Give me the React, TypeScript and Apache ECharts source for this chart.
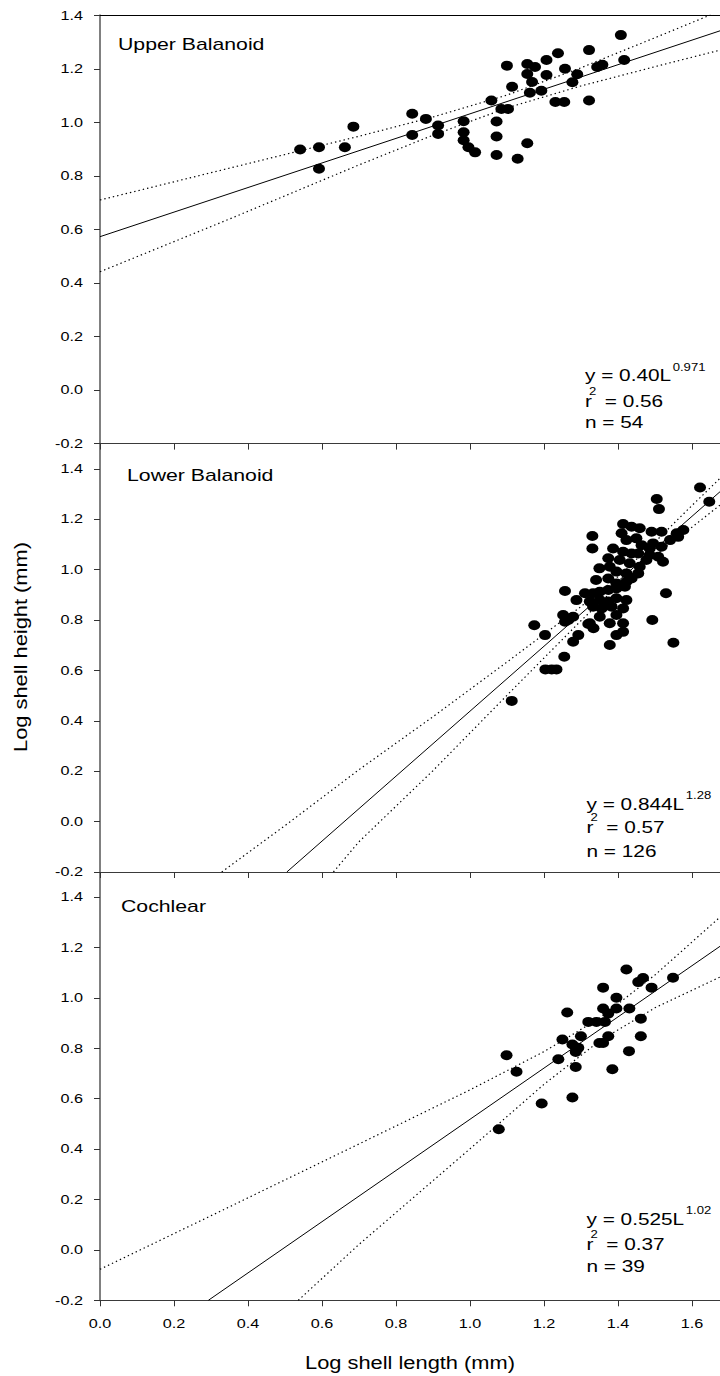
import React, { useEffect, useRef } from "react";
import * as echarts from "echarts";

// ---------- axes ----------
const X_MIN = 0;
const X_MAX = 1.676;
const X_TICKS = [0, 0.2, 0.4, 0.6, 0.8, 1.0, 1.2, 1.4, 1.6];
const X_TICK_LABELS = ["0.0", "0.2", "0.4", "0.6", "0.8", "1.0", "1.2", "1.4", "1.6"];
const Y_MIN = -0.2;
const Y_MAX = [1.4, 1.5, 1.5];
const Y_TICKS = [-0.2, 0, 0.2, 0.4, 0.6, 0.8, 1.0, 1.2, 1.4];
const Y_TICK_LABELS = ["-0.2", "0.0", "0.2", "0.4", "0.6", "0.8", "1.0", "1.2", "1.4"];
const X_TITLE = "Log shell length (mm)";
const Y_TITLE = "Log shell height (mm)";

// ---------- panel annotations ----------
const PANEL_NAMES = ["Upper Balanoid", "Lower Balanoid", "Cochlear"];
const EQ_COEF = ["0.40", "0.844", "0.525"];
const EQ_EXP = ["0.971", "1.28", "1.02"];
const R2 = ["0.56", "0.57", "0.37"];
const N_OBS = ["54", "126", "39"];

// ---------- Upper Balanoid ----------
const UPPER_PTS: number[][] = [
  [0.541, 0.899], [0.592, 0.907], [0.592, 0.827], [0.662, 0.907], [0.685, 0.984],
  [0.844, 1.032], [0.844, 0.953], [0.881, 1.013], [0.914, 0.988], [0.914, 0.957],
  [0.983, 1.004], [0.983, 0.963], [0.983, 0.933], [0.996, 0.907], [1.014, 0.888],
  [1.058, 1.082], [1.072, 1.003], [1.072, 0.947], [1.072, 0.878], [1.085, 1.050],
  [1.103, 1.050], [1.100, 1.212], [1.114, 1.133], [1.129, 0.864], [1.155, 0.922],
  [1.155, 1.218], [1.155, 1.181], [1.162, 1.111], [1.168, 1.151], [1.176, 1.207],
  [1.193, 1.118], [1.207, 1.233], [1.207, 1.177], [1.231, 1.076], [1.238, 1.258],
  [1.255, 1.076], [1.257, 1.200], [1.277, 1.150], [1.290, 1.180], [1.322, 1.270],
  [1.322, 1.082], [1.344, 1.207], [1.358, 1.215], [1.408, 1.326], [1.417, 1.233],
];
const UPPER_FIT = [[0, 0.573], [1.676, 1.342]];
const UPPER_HI = [[0, 0.71], [0.35, 0.829], [0.7, 0.948], [0.9, 1.02], [1.1, 1.102], [1.3, 1.204], [1.5, 1.316], [1.676, 1.416]];
const UPPER_LO = [[0, 0.442], [0.35, 0.639], [0.7, 0.841], [0.9, 0.952], [1.1, 1.054], [1.3, 1.136], [1.5, 1.208], [1.676, 1.27]];

// ---------- Lower Balanoid ----------
const LOWER_PTS: number[][] = [
  [1.414, 1.181], [1.437, 1.17], [1.459, 1.164], [1.491, 1.15], [1.518, 1.15],
  [1.559, 1.144], [1.577, 1.157], [1.41, 1.144], [1.423, 1.117], [1.45, 1.124],
  [1.464, 1.097], [1.495, 1.104], [1.486, 1.084], [1.518, 1.091], [1.541, 1.117],
  [1.563, 1.13], [1.387, 1.084], [1.414, 1.071], [1.437, 1.064], [1.455, 1.064],
  [1.486, 1.058], [1.509, 1.051], [1.522, 1.031], [1.374, 1.045], [1.405, 1.038],
  [1.432, 1.025], [1.459, 1.011], [1.477, 1.038], [1.35, 1.005], [1.378, 1.011],
  [1.396, 0.992], [1.423, 0.985], [1.455, 0.985], [1.341, 0.959], [1.374, 0.965],
  [1.396, 0.945], [1.423, 0.952], [1.437, 0.965], [1.311, 0.906], [1.333, 0.906],
  [1.351, 0.912], [1.374, 0.919], [1.396, 0.925], [1.419, 0.932], [1.324, 0.873],
  [1.351, 0.879], [1.374, 0.873], [1.396, 0.886], [1.423, 0.879], [1.333, 0.853],
  [1.356, 0.846], [1.383, 0.853], [1.414, 0.846], [1.252, 0.82], [1.279, 0.813],
  [1.351, 0.813], [1.396, 0.82], [1.324, 0.787], [1.378, 0.787], [1.414, 0.787],
  [1.266, 0.8],
  [1.622, 1.326], [1.647, 1.269], [1.505, 1.28], [1.511, 1.24], [1.331, 1.133],
  [1.331, 1.084], [1.174, 0.779], [1.203, 0.74], [1.113, 0.479], [1.204, 0.604],
  [1.221, 0.604], [1.234, 0.604], [1.255, 0.654], [1.279, 0.714], [1.293, 0.74],
  [1.378, 0.701], [1.396, 0.74], [1.414, 0.753], [1.493, 0.8], [1.55, 0.71],
  [1.53, 0.906], [1.257, 0.915], [1.288, 0.879], [1.257, 0.793], [1.32, 0.784],
  [1.334, 0.767],
];
const LOWER_FIT = [[0.505, -0.2], [1.676, 1.309]];
const LOWER_HI = [[0.329, -0.2], [0.5, -0.016], [0.7, 0.206], [0.9, 0.416], [1.1, 0.633], [1.3, 0.853], [1.4, 0.972], [1.5, 1.109], [1.6, 1.254], [1.676, 1.362]];
const LOWER_LO = [[0.631, -0.2], [0.7, -0.08], [0.9, 0.202], [1.1, 0.501], [1.3, 0.797], [1.4, 0.936], [1.5, 1.057], [1.6, 1.168], [1.676, 1.256]];

// ---------- Cochlear ----------
const COCH_PTS: number[][] = [
  [1.423, 1.113], [1.455, 1.063], [1.468, 1.079], [1.549, 1.08], [1.491, 1.041],
  [1.36, 1.041], [1.396, 1.001], [1.36, 0.958], [1.374, 0.938], [1.396, 0.958],
  [1.431, 0.958], [1.263, 0.942], [1.32, 0.905], [1.342, 0.905], [1.365, 0.905],
  [1.462, 0.918], [1.3, 0.848], [1.374, 0.848], [1.462, 0.848], [1.25, 0.835],
  [1.35, 0.821], [1.36, 0.821], [1.277, 0.815], [1.293, 0.802], [1.286, 0.786],
  [1.43, 0.789], [1.099, 0.773], [1.239, 0.757], [1.126, 0.707], [1.286, 0.726],
  [1.385, 0.717], [1.277, 0.605], [1.194, 0.581], [1.078, 0.479],
];
const COCH_FIT = [[0.293, -0.2], [1.676, 1.205]];
const COCH_HI = [[0, -0.077], [0.35, 0.171], [0.698, 0.419], [1.0, 0.635], [1.2, 0.787], [1.35, 0.919], [1.5, 1.091], [1.676, 1.321]];
const COCH_LO = [[0.536, -0.2], [0.698, 0.019], [1.0, 0.401], [1.2, 0.657], [1.35, 0.829], [1.5, 0.961], [1.676, 1.083]];

const PANELS = [
  { pts: UPPER_PTS, fit: UPPER_FIT, hi: UPPER_HI, lo: UPPER_LO },
  { pts: LOWER_PTS, fit: LOWER_FIT, hi: LOWER_HI, lo: LOWER_LO },
  { pts: COCH_PTS, fit: COCH_FIT, hi: COCH_HI, lo: COCH_LO },
];

// ---------- layout ----------
const GRIDS = [
  { left: 100, top: 15.3, width: 620, height: 428.3 },
  { left: 100, top: 443.6, width: 620, height: 428.4 },
  { left: 100, top: 872, width: 620, height: 428.3 },
];
const FONT = 'Arial, "Liberation Sans", Helvetica, sans-serif';
const TITLE_POS = [[118, 44.3], [127, 475], [121, 906]];
const EQ_X = [585, 586.5, 586.5];
const EQ_ROWS = [[375.8, 401, 422.5], [804, 827.5, 851], [1219, 1244, 1266]];

const ELLIPSE = "path://M0,50A50,50,0,1,1,100,50A50,50,0,1,1,0,50Z";

// Arial advance widths (em) for the characters used in the equations
const ADV: Record<string, number> = {
  "0": 0.556, "1": 0.556, "2": 0.556, "3": 0.556, "4": 0.556, "5": 0.556,
  "6": 0.556, "7": 0.556, "8": 0.556, "9": 0.556, ".": 0.278, " ": 0.278,
  "=": 0.584, y: 0.5, L: 0.556, r: 0.333, n: 0.556,
};
function textWidth(text: string, size: number): number {
  let w = 0;
  for (const ch of text) w += ADV[ch] ?? 0.556;
  return w * size;
}

function txt(text: string, x: number, y: number, size: number, align: string, sx: number, extra: any = {}) {
  return {
    type: "text",
    x,
    y,
    scaleX: sx,
    silent: true,
    z: 10,
    ...extra,
    style: {
      text,
      fontSize: size,
      fontFamily: FONT,
      fill: "#000",
      align,
      verticalAlign: "middle",
    },
  };
}

export default function App() {
  const ref = useRef<HTMLDivElement>(null);

  useEffect(() => {
    if (!ref.current) return;
    const chart = echarts.init(ref.current, null, { renderer: "svg" });

    const xAxes: any[] = GRIDS.map((_, i) => ({
      type: "value",
      gridIndex: i,
      min: X_MIN,
      max: X_MAX,
      interval: 0.2,
      position: "bottom",
      axisLine: { show: true, onZero: false, lineStyle: { color: "#3a3a3a", width: 1 } },
      axisTick: { show: true, inside: false, length: 6, customValues: X_TICKS, lineStyle: { color: "#333", width: 1 } },
      axisLabel: { show: false },
      splitLine: { show: false },
    }));
    xAxes.push({
      type: "value",
      gridIndex: 0,
      min: X_MIN,
      max: X_MAX,
      position: "top",
      axisLine: { show: true, onZero: false, lineStyle: { color: "#000", width: 1 } },
      axisTick: { show: false },
      axisLabel: { show: false },
      splitLine: { show: false },
    });

    const yAxes = GRIDS.map((_, i) => ({
      type: "value",
      gridIndex: i,
      min: Y_MIN,
      max: Y_MAX[i],
      interval: 0.2,
      axisLine: { show: true, onZero: false, lineStyle: { color: "#808080", width: 2 } },
      axisTick: { show: true, inside: false, length: 6, customValues: Y_TICKS, lineStyle: { color: "#333", width: 1 } },
      axisLabel: { show: false },
      splitLine: { show: false },
    }));

    const series: any[] = [];
    PANELS.forEach((p, i) => {
      const base = { xAxisIndex: i, yAxisIndex: i, silent: true };
      series.push({
        ...base,
        type: "line",
        data: p.fit,
        showSymbol: false,
        z: 2,
        lineStyle: { color: "#000", width: 1, type: "solid" },
      });
      [p.hi, p.lo].forEach((d) =>
        series.push({
          ...base,
          type: "line",
          data: d,
          showSymbol: false,
          smooth: false,
          z: 2,
          lineStyle: { color: "#000", width: 1.2, type: [1.4, 3] },
        })
      );
      series.push({
        ...base,
        type: "scatter",
        data: p.pts,
        symbol: ELLIPSE,
        symbolSize: [12, 10],
        z: 3,
        itemStyle: { color: "#000", opacity: 1 },
      });
    });

    chart.setOption({
      animation: false,
      backgroundColor: "#fff",
      grid: GRIDS,
      xAxis: xAxes,
      yAxis: yAxes,
      series,
    });

    // ---------- texts ----------
    const g: any[] = [];
    const TICK_SX = 1.35;
    for (let i = 0; i < 3; i++) {
      const x0 = chart.convertToPixel({ xAxisIndex: i } as any, X_MIN) as number;
      Y_TICKS.forEach((v, k) => {
        const py = chart.convertToPixel({ yAxisIndex: i } as any, v) as number;
        g.push(txt(Y_TICK_LABELS[k], x0 - 17, py, 12, "right", TICK_SX));
      });
    }
    const bottom = chart.convertToPixel({ yAxisIndex: 2 } as any, Y_MIN) as number;
    X_TICKS.forEach((v, k) => {
      const px = chart.convertToPixel({ xAxisIndex: 2 } as any, v) as number;
      g.push(txt(X_TICK_LABELS[k], px, bottom + 23.7, 12, "center", TICK_SX));
    });

    // axis titles
    g.push(txt(X_TITLE, 410, 1362, 19, "center", 1.15));
    g.push(txt(Y_TITLE, 20.5, 647, 19, "center", 1.15, { rotation: Math.PI / 2 }));

    // panel titles and equations
    const EQ_SIZE = 16;
    const EQ_SX = 1.3;
    const SUP_SIZE = 10.5;
    const SUP_SX = 1.25;
    for (let i = 0; i < 3; i++) {
      g.push(txt(PANEL_NAMES[i], TITLE_POS[i][0], TITLE_POS[i][1], 17, "left", 1.25));
      const x0 = EQ_X[i];
      const [r1, r2, r3] = EQ_ROWS[i];
      const main = `y = ${EQ_COEF[i]}L`;
      g.push(txt(main, x0, r1, EQ_SIZE, "left", EQ_SX));
      const w = textWidth(main, EQ_SIZE) * EQ_SX;
      g.push(txt(EQ_EXP[i], x0 + w + 1.5, r1 - 8.5, SUP_SIZE, "left", SUP_SX));
      g.push(txt("r", x0, r2, EQ_SIZE, "left", EQ_SX));
      g.push(txt("2", x0 + 4, r2 - 10, SUP_SIZE, "left", SUP_SX));
      g.push(txt(` = ${R2[i]}`, x0 + 14, r2, EQ_SIZE, "left", EQ_SX));
      g.push(txt(`n = ${N_OBS[i]}`, x0, r3, EQ_SIZE, "left", EQ_SX));
    }

    chart.setOption({ graphic: { elements: g } });

    return () => chart.dispose();
  }, []);

  return (
    <div
      ref={ref}
      style={{ position: "absolute", left: 0, top: 0, width: 720, height: 1376, background: "#fff" }}
    />
  );
}
